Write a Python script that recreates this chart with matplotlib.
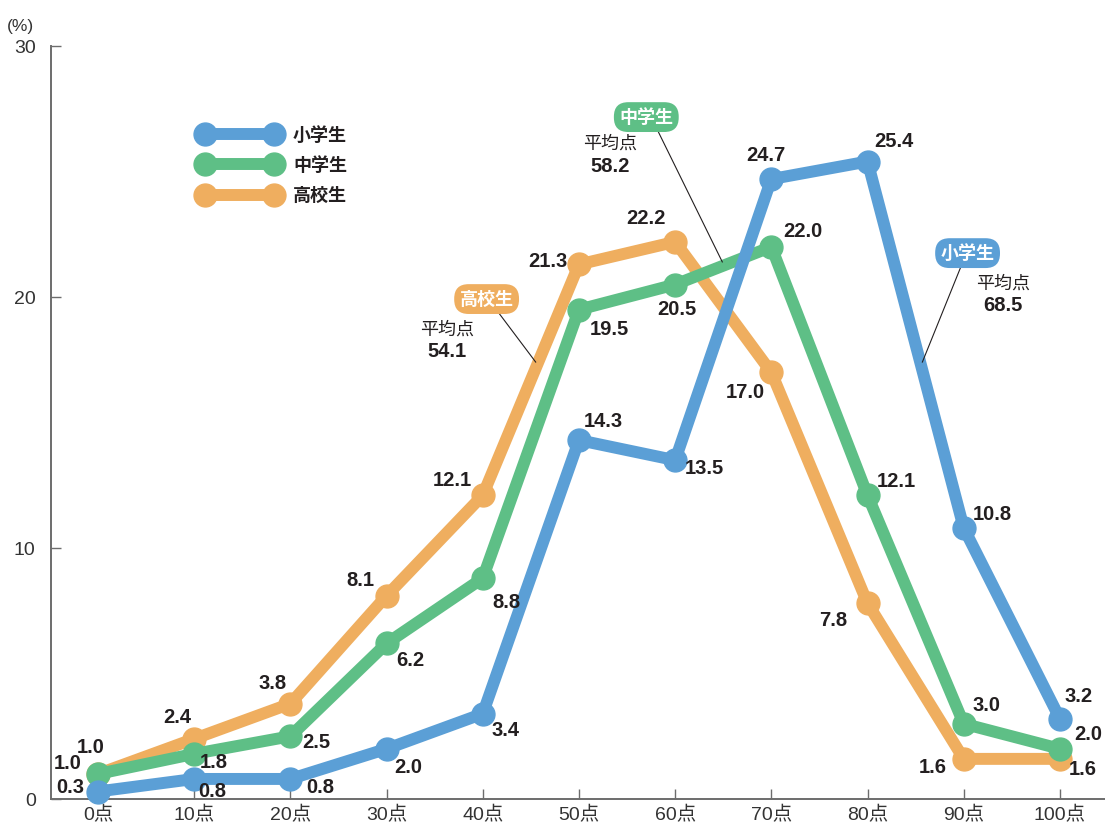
import matplotlib
matplotlib.use("Agg")
import matplotlib.pyplot as plt

plt.rcParams['font.family'] = ['Noto Sans CJK JP', 'DejaVu Sans']

# Score bins and distribution (%) per school level
scores = [0, 10, 20, 30, 40, 50, 60, 70, 80, 90, 100]
tick_labels = ['0点', '10点', '20点', '30点', '40点', '50点', '60点', '70点', '80点', '90点', '100点']
elementary = [0.3, 0.8, 0.8, 2.0, 3.4, 14.3, 13.5, 24.7, 25.4, 10.8, 3.2]
junior_high = [1.0, 1.8, 2.5, 6.2, 8.8, 19.5, 20.5, 22.0, 12.1, 3.0, 2.0]
high_school = [1.0, 2.4, 3.8, 8.1, 12.1, 21.3, 22.2, 17.0, 7.8, 1.6, 1.6]
series_names = ['小学生', '中学生', '高校生']
mean_scores = [68.5, 58.2, 54.1]

BLUE = '#5B9FD6'
GREEN = '#5EBF86'
ORANGE = '#EFAE5F'
TEXT = '#231F20'
LATIN = ['Liberation Sans', 'Noto Sans CJK JP', 'DejaVu Sans']

fig = plt.figure(figsize=(11.05, 8.24), dpi=100)
ax = fig.add_axes([0.04615, 0.0303, 0.9538, 0.9138])
ax.set_xlim(-4.886, 104.68)
ax.set_ylim(0, 30)

line_kw = dict(linewidth=8.6, marker='o', markersize=16.5, solid_joinstyle='round',
               solid_capstyle='round', clip_on=False)
l_hs, = ax.plot(scores, high_school, color=ORANGE, zorder=3, label=series_names[2], **line_kw)
l_jh, = ax.plot(scores, junior_high, color=GREEN, zorder=4, label=series_names[1], **line_kw)
l_el, = ax.plot(scores, elementary, color=BLUE, zorder=5, label=series_names[0], **line_kw)

# Value labels: pixel offsets from each marker
offs_el = [(-28, 4), (18, -13), (30, -9), (22, -19), (23, -17), (24, 19),
           (29, -8), (-5, 24), (26, 20), (29, 13), (19, 22)]
offs_jh = [(-30, 10), (20, -9), (26, -6), (24, -17), (24, -24), (30, -20),
           (2, -25), (32, 15), (29, 14), (23, 18), (28, 14)]
offs_hs = [(-7, 26), (-17, 21), (-18, 20), (-26, 15), (-30, 15), (-31, 3),
           (-29, 23), (-26, -20), (-34, -17), (-31, -9), (23, -11)]

lab_kw = dict(textcoords='offset pixels', ha='center', va='center',
              fontsize=14.5, fontweight='bold', color=TEXT,
              family=['Liberation Sans', 'DejaVu Sans'], zorder=6)
for vals, offs in ((elementary, offs_el), (junior_high, offs_jh), (high_school, offs_hs)):
    for x, v, o in zip(scores, vals, offs):
        ax.annotate(f'{v:.1f}', (x, v), xytext=o, **lab_kw)

# Axes styling
for s in ('top', 'right'):
    ax.spines[s].set_visible(False)
for s in ('left', 'bottom'):
    ax.spines[s].set_color('#6d6d6d')
    ax.spines[s].set_linewidth(1.4)
ax.spines['bottom'].set_zorder(1)
ax.set_xticks(scores)
ax.set_xticklabels(tick_labels, family=LATIN)
ax.set_yticks([0, 10, 20, 30])
ax.set_yticklabels(['0', '10', '20', '30'], family=LATIN)
ax.tick_params(axis='both', direction='in', length=7, width=1.0, color='#6d6d6d',
               labelsize=14, labelcolor='#333333')
ax.tick_params(axis='x', pad=5)
ax.tick_params(axis='y', pad=11)
ax.text(-0.029, 1.016, '(%)', transform=ax.transAxes, ha='center', va='bottom',
        fontsize=12.5, color='#333333', family=LATIN)

# Legend with markers at both ends of the handle
leg = ax.legend(handles=[l_el, l_jh, l_hs], loc='upper left', bbox_to_anchor=(0.1345, 0.904),
                numpoints=2, frameon=False, handlelength=4.4, handletextpad=0.75,
                labelspacing=0.62, borderaxespad=0,
                prop=dict(family=['Noto Sans CJK JP'], weight='bold', size=13))
for t in leg.get_texts():
    t.set_color(TEXT)

# Mean-score callouts
callouts = [
    # (name, colour, mean, badge xy, leader start, leader end, text xy)
    (series_names[0], BLUE, mean_scores[0], (90.4, 21.75), (89.8, 21.3), (85.7, 17.41), (94.1, 20.1)),
    (series_names[1], GREEN, mean_scores[1], (57.0, 27.17), (58.1, 26.7), (64.9, 21.4), (53.2, 25.65)),
    (series_names[2], ORANGE, mean_scores[2], (40.4, 19.92), (41.5, 19.45), (45.5, 17.41), (36.3, 18.25)),
]
for name, col, mean, bxy, p0, p1, txy in callouts:
    ax.plot([p0[0], p1[0]], [p0[1], p1[1]], color='#231F20', linewidth=0.8, zorder=7)
    ax.text(bxy[0], bxy[1], name, ha='center', va='center', fontsize=13, fontweight='bold',
            color='white', zorder=8,
            bbox=dict(boxstyle='round,pad=0.3,rounding_size=0.8', fc=col, ec='none'))
    ax.text(txy[0], txy[1] + 0.45, '平均点', ha='center', va='center', fontsize=13,
            color=TEXT, zorder=8)
    ax.text(txy[0], txy[1] - 0.43, f'{mean:.1f}', ha='center', va='center', fontsize=14.5,
            fontweight='bold', color=TEXT, family=['Liberation Sans', 'DejaVu Sans'], zorder=8)

fig.savefig('out.png', dpi=100)
